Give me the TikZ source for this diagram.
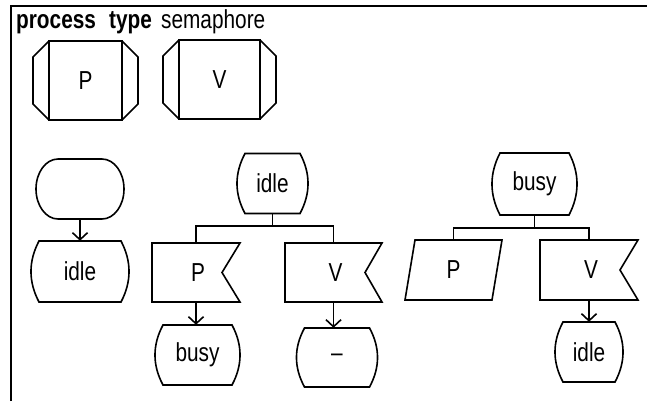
\documentclass[tikz,border=0pt]{standalone}
\usepackage{fontspec}
\setmainfont{Liberation Sans}[FakeStretch=0.8]
\usetikzlibrary{arrows.meta}
\tikzset{
  shp/.style={draw, line width=1.6bp, line join=miter},
  lbl/.style={inner sep=0pt, font=\fontsize{26bp}{30bp}\selectfont},
  conn/.style={line width=1.6bp},
  arr/.style={conn, -{Straight Barb[length=7bp,width=15bp]}},
  frameline/.style={line width=2bp, line join=miter},
}
% state: name, cx, cy, half corner width, half height, text
\newcommand\sdlstate[6]{%
  \node[lbl, minimum width={(#4+8)*2bp}, minimum height={#5*2bp}] (#1) at (#2,#3) {#6};
  \draw[shp] (#2-#4,#3-#5) -- (#2+#4,#3-#5)
     .. controls (#2+#4+10.7,#3-#5/3) and (#2+#4+10.7,#3+#5/3) .. (#2+#4,#3+#5)
     -- (#2-#4,#3+#5)
     .. controls (#2-#4-10.7,#3+#5/3) and (#2-#4-10.7,#3-#5/3) .. cycle;
}
% procedure: name, left, top, right, bottom, side, text
\newcommand\sdlproc[7]{%
  \node[lbl, minimum width={(#4-#2)*1bp}, minimum height={(#5-#3)*1bp}] (#1) at ({(#2+#4)/2},{(#3+#5)/2}) {#7};
  \draw[shp] (#2,#3) rectangle (#4,#5);
  \draw[shp] (#2,#3) -- (#2-#6,#3+#6) -- (#2-#6,#5-#6) -- (#2,#5);
  \draw[shp] (#4,#3) -- (#4+#6,#3+#6) -- (#4+#6,#5-#6) -- (#4,#5);
}
% input signal: name, left, top, right, bottom, notch, text
\newcommand\sdlinput[7]{%
  \node[lbl, minimum width={(#4-#2)*1bp}, minimum height={(#5-#3)*1bp}] (#1) at ({(#2+#4)/2},{(#3+#5)/2}) {\hspace*{4bp}#7};
  \draw[shp] (#2,#3) -- (#4,#3) -- (#4-#6,{(#3+#5)/2}) -- (#4,#5) -- (#2,#5) -- cycle;
}
\begin{document}
\begin{tikzpicture}[x=1bp, y=-1bp]
  \useasboundingbox (0,0) rectangle (647,401);
  % frame
  \draw[frameline] (11,401) -- (11,6) -- (647,6);
  % heading
  \node[lbl, anchor=base west] (kw1) at (16,28) {\bfseries process};
  \node[lbl, anchor=base west] (kw2) at (109,28) {\bfseries type};
  \node[lbl, anchor=base west] (tname) at (161,28) {semaphore};
  % procedures
  \sdlproc{procP}{49}{41}{122}{120}{16}{P}
  \sdlproc{procV}{179}{40}{260}{119}{16}{V}
  % start
  \node[lbl, minimum width=88bp, minimum height=60bp] (start) at (80,189) {};
  \draw[shp] (58,159) -- (102,159) arc[start angle=-90, end angle=90, x radius=22, y radius=30]
     -- (58,219) arc[start angle=90, end angle=270, x radius=22, y radius=30] -- cycle;
  \sdlstate{idleA}{80}{271.5}{41}{30.5}{idle}
  \draw[arr] (start.south) -- (idleA.north);
  % idle transitions
  \sdlstate{idleB}{272.5}{183.5}{27.5}{30}{idle}
  \sdlinput{inP}{152}{243}{240}{302}{18}{P}
  \sdlinput{inV}{285}{243}{382}{302}{17}{V}
  \coordinate (barB) at (272.5,226);
  \draw[conn] (idleB.south) -- (barB);
  \draw[conn] (inP.north) |- (barB) -| (inV.north);
  \sdlstate{busyA}{197.5}{355}{34.5}{30}{busy}
  \sdlstate{dash}{337}{357.5}{32.5}{29.5}{–}
  \draw[arr] (inP.south) -- (inP.south |- busyA.north);
  \draw[arr] (inV.south) -- (inV.south |- dash.north);
  % busy transitions
  \sdlstate{busyB}{534.5}{184}{34.5}{31}{busy}
  \node[lbl, minimum width=97bp, minimum height=60bp] (saveP) at (453.5,270) {P};
  \draw[shp] (415,240) -- (502,240) -- (492,300) -- (405,300) -- cycle;
  \sdlinput{inV2}{540}{240}{638}{300}{18}{V}
  \coordinate (barC) at (534.5,228);
  \draw[conn] (busyB.south) -- (barC);
  \draw[conn] (saveP.north) |- (barC) -| (inV2.north);
  \sdlstate{idleC}{589}{352}{26}{30}{idle}
  \draw[arr] (inV2.south) -- (inV2.south |- idleC.north);
\end{tikzpicture}
\end{document}
